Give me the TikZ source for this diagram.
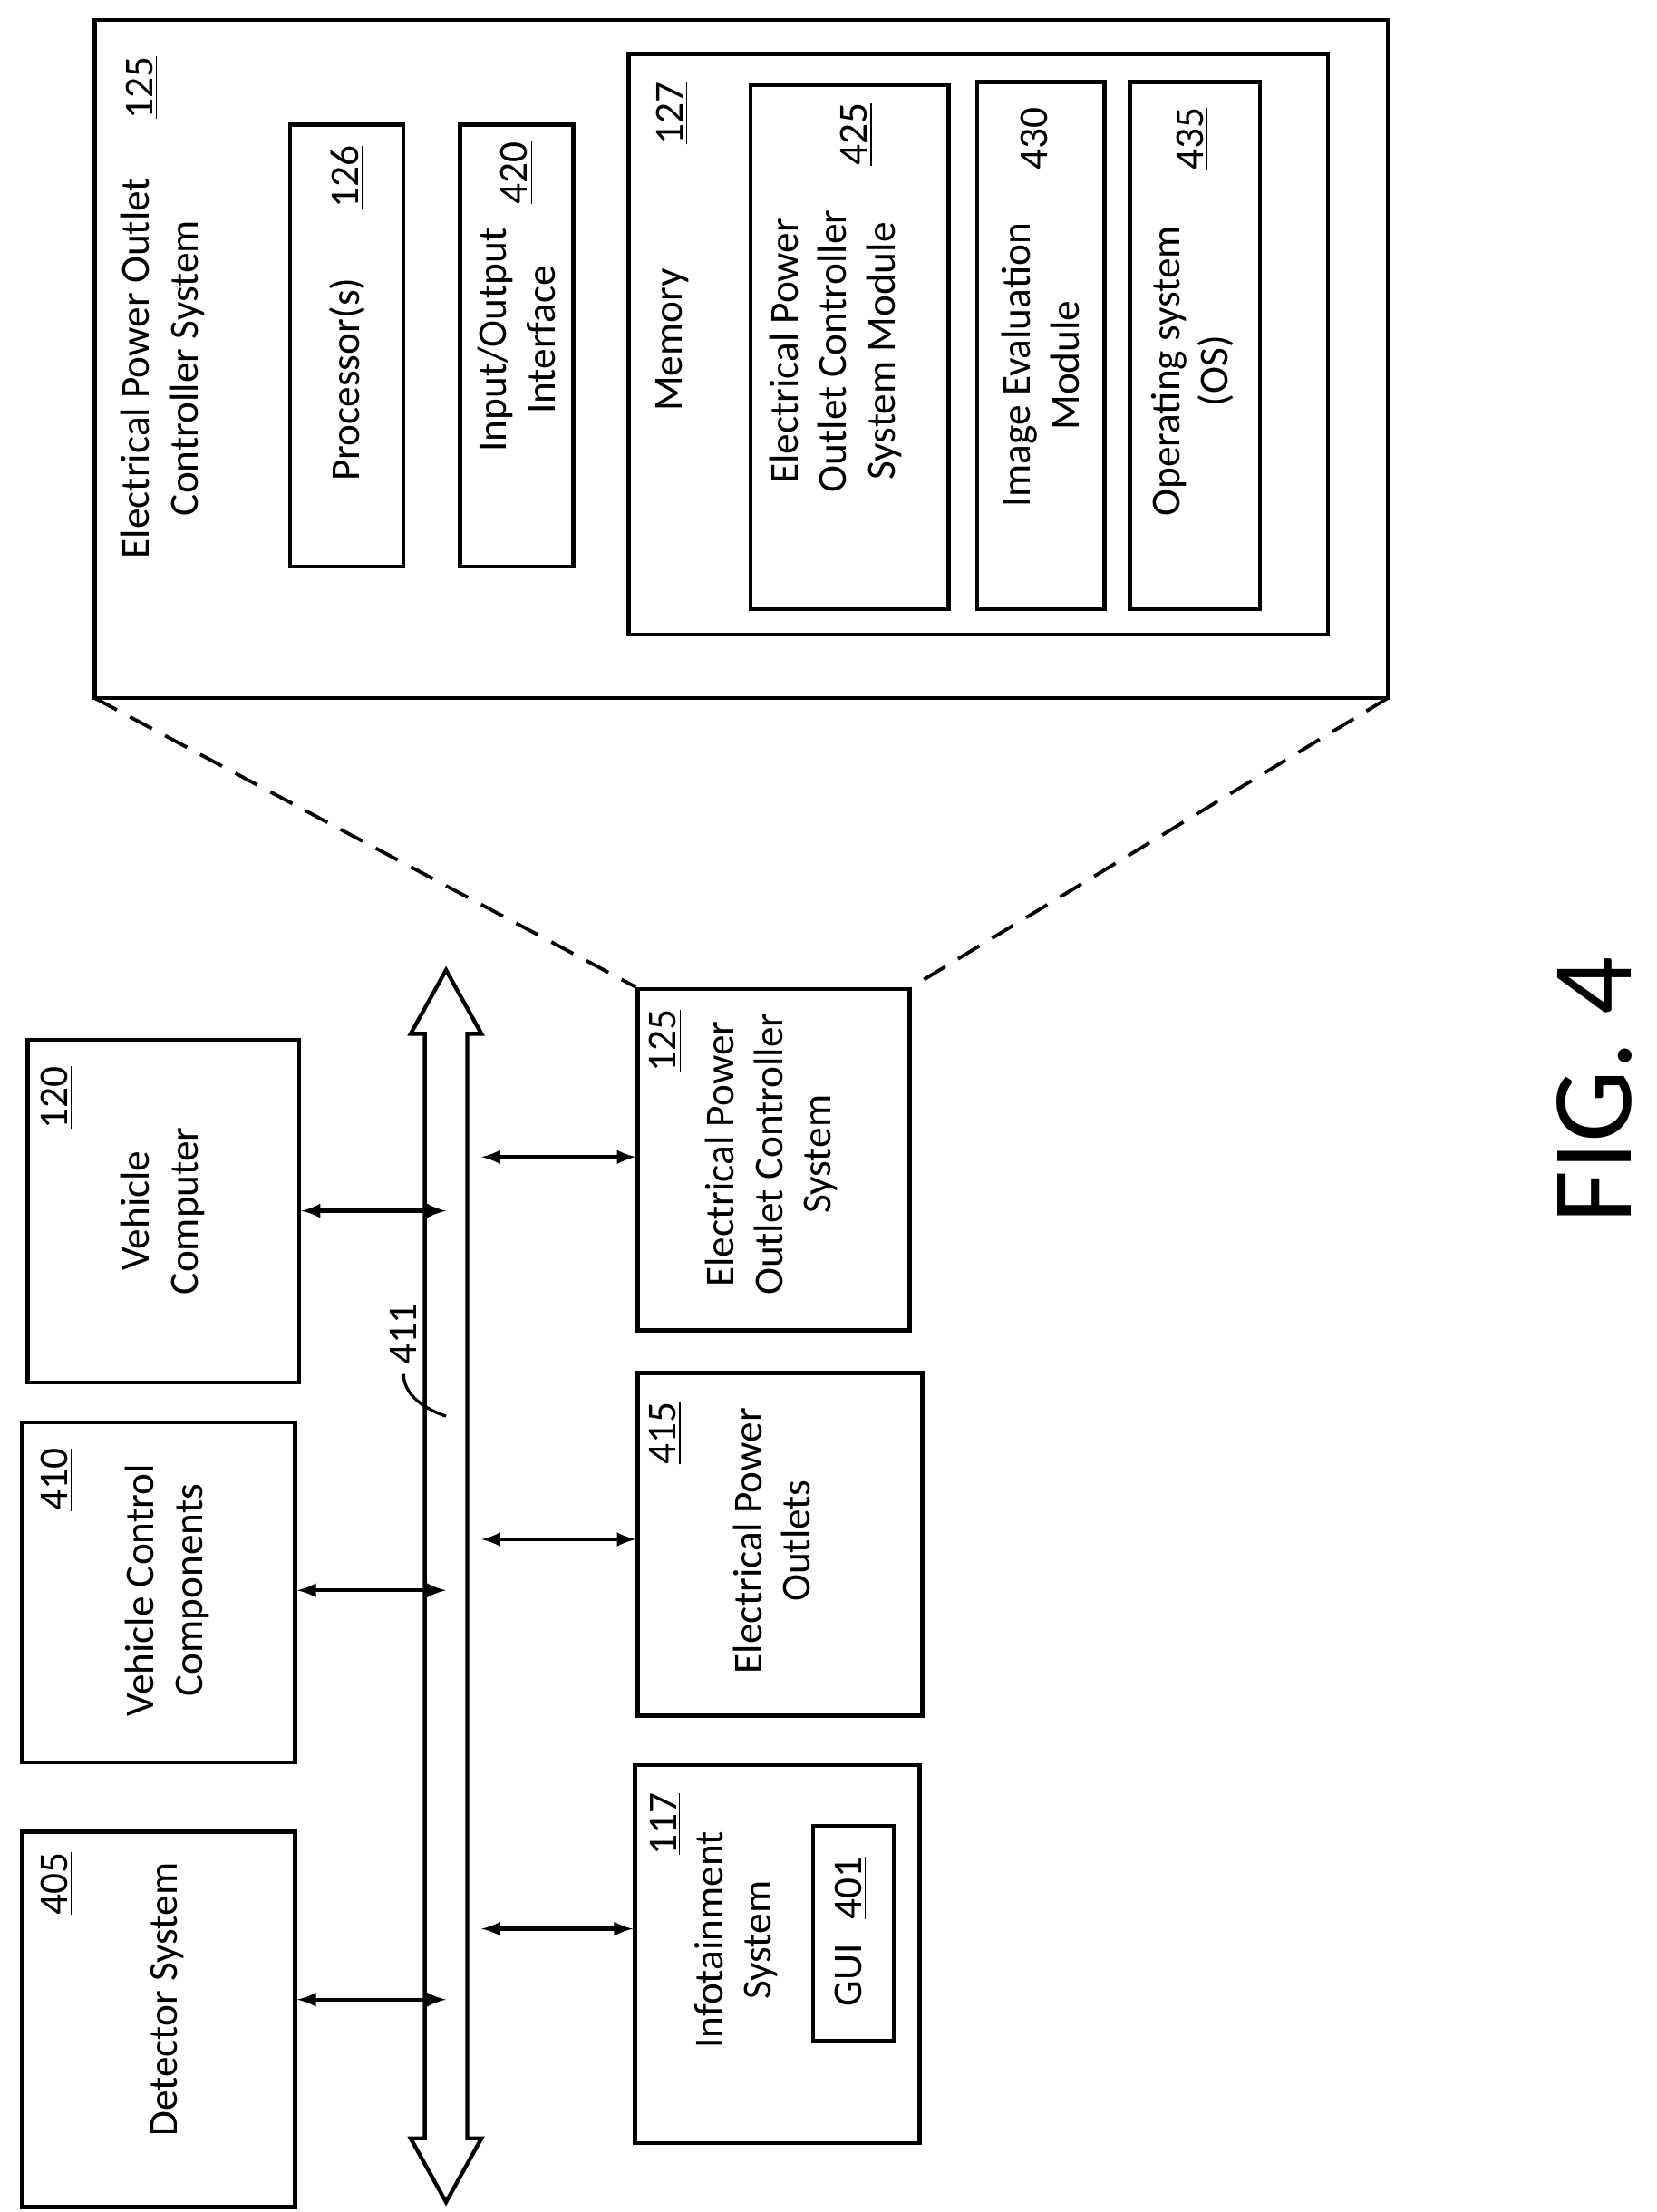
\documentclass[tikz,border=0pt]{standalone}
\usepackage{fontspec}
\setmainfont{Carlito}
\begin{document}
\begin{tikzpicture}[x=0.02cm,y=-0.02cm,
  box/.style={draw,line width=1.6pt},
  txt/.style={rotate=90,align=center,font=\fontsize{16.5}{19.5}\selectfont},
  num/.style={rotate=90,font=\fontsize{16.5}{19.5}\selectfont},
  arr/.style={line width=1.6pt,<->,>={latex}}]
\useasboundingbox (0,0) rectangle (1170,1562);
% big box
\draw[box] (67,14) rectangle (980,493);
\node[num] at (100,62) {\underline{125}};
\node[txt] at (115,260) {Electrical Power Outlet\\Controller System};
\draw[box] (205,88) rectangle (285,400);
\node[txt] at (245,268) {Processor(s)};
\node[num] at (245,125) {\underline{126}};
\draw[box] (325,88) rectangle (405,400);
\node[txt] at (365,240) {Input/Output\\Interface};
\node[num] at (365,122) {\underline{420}};
\draw[box] (444,38) rectangle (938,448);
\node[txt] at (475,240) {Memory};
\node[num] at (475,80) {\underline{127}};
\draw[box] (530,60) rectangle (670,430);
\node[txt] at (590,248) {Electrical Power\\Outlet Controller\\System Module};
\node[num] at (605,95) {\underline{425}};
\draw[box] (690,58) rectangle (780,430);
\node[txt] at (735,258) {Image Evaluation\\Module};
\node[num] at (732,98) {\underline{430}};
\draw[box] (798,58) rectangle (890,430);
\node[txt] at (842,262) {Operating system\\(OS)};
\node[num] at (842,98) {\underline{435}};
% small 125
\node[box,minimum width=192*0.02cm,minimum height=241*0.02cm,anchor=north west] (s125) at (449,697) {};
\node[txt] at (545,815) {Electrical Power\\Outlet Controller\\System};
\node[num] at (470,735) {\underline{125}};
\draw[dash pattern=on 10pt off 6pt,line width=1.4pt] (67,493) -- (s125.north west);
\draw[dash pattern=on 10pt off 6pt,line width=1.4pt] (980,493) -- (s125.north east);
% other boxes
\node[box,minimum width=201*0.02cm,minimum height=242*0.02cm,anchor=north west] (b415) at (449,968) {};
\node[txt] at (545,1088) {Electrical Power\\Outlets};
\node[num] at (470,1012) {\underline{415}};
\node[box,minimum width=201*0.02cm,minimum height=267*0.02cm,anchor=north west] (b117) at (447,1245) {};
\node[txt] at (520,1370) {Infotainment\\System};
\node[num] at (470,1288) {\underline{117}};
\node[box,minimum width=57*0.02cm,minimum height=152*0.02cm,anchor=north west] (gui) at (573,1288) {};
\node[num] at (601,1364) {GUI\hspace{0.6em}\underline{401}};
\node[box,minimum width=192*0.02cm,minimum height=242*0.02cm,anchor=north west] (b120) at (18,733) {};
\node[txt] at (115,855) {Vehicle\\Computer};
\node[num] at (40,775) {\underline{120}};
\node[box,minimum width=193*0.02cm,minimum height=240*0.02cm,anchor=north west] (b410) at (14,1003) {};
\node[txt] at (118,1123) {Vehicle Control\\Components};
\node[num] at (40,1045) {\underline{410}};
\node[box,minimum width=193*0.02cm,minimum height=265*0.02cm,anchor=north west] (b405) at (14,1292) {};
\node[txt] at (118,1412) {Detector System};
\node[num] at (40,1330) {\underline{405}};
% bus
\draw[line width=1.6pt,fill=white] (300,730) -- (290,730) -- (315,685) -- (340,730) -- (330,730) -- (330,1510) -- (340,1510) -- (315,1555) -- (290,1510) -- (300,1510) -- cycle;
\coordinate (bus1) at (315,855);
\coordinate (bus2) at (315,1123);
\coordinate (bus3) at (315,1412);
\coordinate (busr1) at (340,817);
\coordinate (busr2) at (340,1087);
\coordinate (busr3) at (340,1362);
\draw[arr] (b120.east|-bus1) -- (bus1);
\draw[arr] (b410.east|-bus2) -- (bus2);
\draw[arr] (b405.east|-bus3) -- (bus3);
\draw[arr] (busr1) -- (s125.west|-busr1);
\draw[arr] (busr2) -- (b415.west|-busr2);
\draw[arr] (busr3) -- (b117.west|-busr3);
\node[num] (l411) at (285,942) {411};
\draw[line width=1.2pt] (l411.west) .. controls (285,985) and (300,995) .. (315,1000);
\node[rotate=90,font=\fontsize{46}{54}\selectfont] at (1126,770) {FIG. 4};
\end{tikzpicture}
\end{document}
